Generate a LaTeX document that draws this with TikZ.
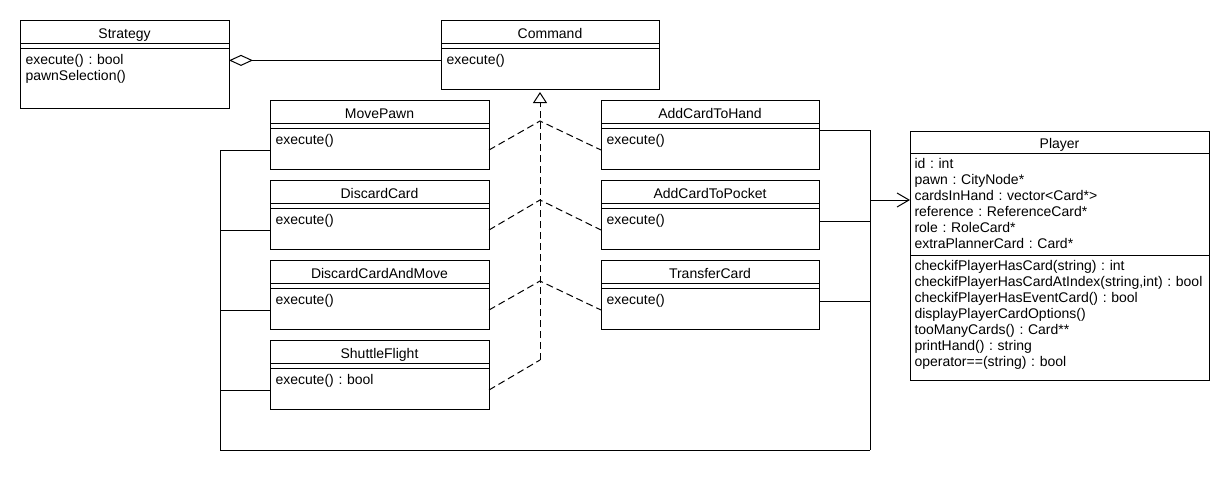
\documentclass[tikz,border=0pt]{standalone}
\usepackage{fontspec}
\setmainfont{Liberation Sans}
\usetikzlibrary{arrows.meta,positioning,calc}

\begin{document}
\frenchspacing
\begin{tikzpicture}[
  x=1pt, y=-1pt,
  line width=1pt,
  cls/.style={draw, anchor=north west, minimum width=219pt, minimum height=69pt, inner sep=0pt, outer sep=0pt},
  ttl/.style={anchor=base, inner sep=0pt, font=\fontsize{14}{16}\selectfont},
  mth/.style={anchor=base west, inner sep=0pt, text width=200pt, align=left, font=\fontsize{14}{16}\selectfont\frenchspacing},
  dsh/.style={dash pattern=on 7pt off 4pt},
  real/.style={dash pattern=on 7pt off 4pt, -{Triangle[open, length=11pt, width=14pt]}, shorten >=3pt},
  agg/.style={{Diamond[open, length=24pt, width=11pt]}-},
  assoc/.style={-{Straight Barb[length=12pt, width=14pt]}},
]
\useasboundingbox (0,0) rectangle (1230,490);

\node[cls, minimum width=209pt, minimum height=88pt] (strat) at (20,20) {};
\node[ttl] (strat-t) at ([yshift=-18pt]strat.north) {Strategy};
\node[mth] (strat-m) at ([xshift=5pt,yshift=-44pt]strat.north west) {execute() : bool\\pawnSelection()};

\node[cls, minimum width=218pt] (cmd) at (441,20) {};
\node[ttl] (cmd-t) at ([yshift=-18pt]cmd.north) {Command};
\node[mth] (cmd-m) at ([xshift=5pt,yshift=-44pt]cmd.north west) {execute()};

\node[cls] (mp) at (270,100) {};
\node[ttl] (mp-t) at ([yshift=-18pt]mp.north) {MovePawn};
\node[mth] (mp-m) at ([xshift=5pt,yshift=-44pt]mp.north west) {execute()};

\node[cls] (dc) at (270,180) {};
\node[ttl] (dc-t) at ([yshift=-18pt]dc.north) {DiscardCard};
\node[mth] (dc-m) at ([xshift=5pt,yshift=-44pt]dc.north west) {execute()};

\node[cls] (dcm) at (270,260) {};
\node[ttl] (dcm-t) at ([yshift=-18pt]dcm.north) {DiscardCardAndMove};
\node[mth] (dcm-m) at ([xshift=5pt,yshift=-44pt]dcm.north west) {execute()};

\node[cls] (sf) at (270,340) {};
\node[ttl] (sf-t) at ([yshift=-18pt]sf.north) {ShuttleFlight};
\node[mth] (sf-m) at ([xshift=5pt,yshift=-44pt]sf.north west) {execute() : bool};

\node[cls, minimum width=218pt] (ach) at (601,100) {};
\node[ttl] (ach-t) at ([yshift=-18pt]ach.north) {AddCardToHand};
\node[mth] (ach-m) at ([xshift=5pt,yshift=-44pt]ach.north west) {execute()};

\node[cls, minimum width=218pt] (acp) at (601,180) {};
\node[ttl] (acp-t) at ([yshift=-18pt]acp.north) {AddCardToPocket};
\node[mth] (acp-m) at ([xshift=5pt,yshift=-44pt]acp.north west) {execute()};

\node[cls, minimum width=218pt] (tc) at (601,260) {};
\node[ttl] (tc-t) at ([yshift=-18pt]tc.north) {TransferCard};
\node[mth] (tc-m) at ([xshift=5pt,yshift=-44pt]tc.north west) {execute()};

\node[cls, minimum width=299pt, minimum height=249pt] (ply) at (910,131) {};
\node[ttl] (ply-t) at ([yshift=-17pt]ply.north) {Player};
\node[mth, text width=294pt] (ply-a) at ([xshift=4pt,yshift=-37pt]ply.north west) {id : int\\pawn : CityNode*\\cardsInHand : vector<Card*>\\reference : ReferenceCard*\\role : RoleCard*\\extraPlannerCard : Card*};
\node[mth, text width=294pt] (ply-m) at ([xshift=4pt,yshift=-139pt]ply.north west) {checkifPlayerHasCard(string) : int\\checkifPlayerHasCardAtIndex(string,int) : bool\\checkifPlayerHasEventCard() : bool\\displayPlayerCardOptions()\\tooManyCards() : Card**\\printHand() : string\\operator==(string) : bool};

% compartments
\foreach \c in {strat,cmd,mp,dc,dcm,sf,ach,acp,tc}
  \draw ([yshift=-23pt]\c.north west) -- ([yshift=-23pt]\c.north east)
        ([yshift=-28pt]\c.north west) -- ([yshift=-28pt]\c.north east);
\draw ([yshift=-22pt]ply.north west) -- ([yshift=-22pt]ply.north east);
\draw ([yshift=-124pt]ply.north west) -- ([yshift=-124pt]ply.north east);

% aggregation
\draw[agg] (strat.east |- cmd-m) -- (cmd.west |- cmd-m);

% realization
\coordinate (j1) at (540,121);
\coordinate (j2) at (540,200);
\coordinate (j3) at (540,281);
\coordinate (j4) at (540,360);
\draw[dsh] ([yshift=-50pt]mp.north east) -- (j1) -- ([yshift=-50pt]ach.north west);
\draw[dsh] ([yshift=-50pt]dc.north east) -- (j2) -- ([yshift=-50pt]acp.north west);
\draw[dsh] ([yshift=-50pt]dcm.north east) -- (j3) -- ([yshift=-50pt]tc.north west);
\draw[dsh] ([yshift=-50pt]sf.north east) -- (j4);
\draw[real] (j4) -- (j4 |- cmd.south);

% association to Player
\coordinate (lb) at (220,450);
\coordinate (rb) at (870,450);
\coordinate (pin) at ([yshift=-69pt]ply.north west);
\draw ([yshift=-50pt]mp.north west) -| (lb);
\draw ([yshift=-50pt]dc.north west) -| (lb);
\draw ([yshift=-50pt]dcm.north west) -| (lb);
\draw ([yshift=-50pt]sf.north west) -| (lb);
\draw (lb) -- (rb);
\draw ([yshift=-30pt]ach.north east) -| (rb);
\draw ([yshift=-41pt]acp.north east) -| (rb);
\draw ([yshift=-41pt]tc.north east) -| (rb);
\draw[assoc] (rb |- pin) -- (pin);

\end{tikzpicture}
\end{document}
